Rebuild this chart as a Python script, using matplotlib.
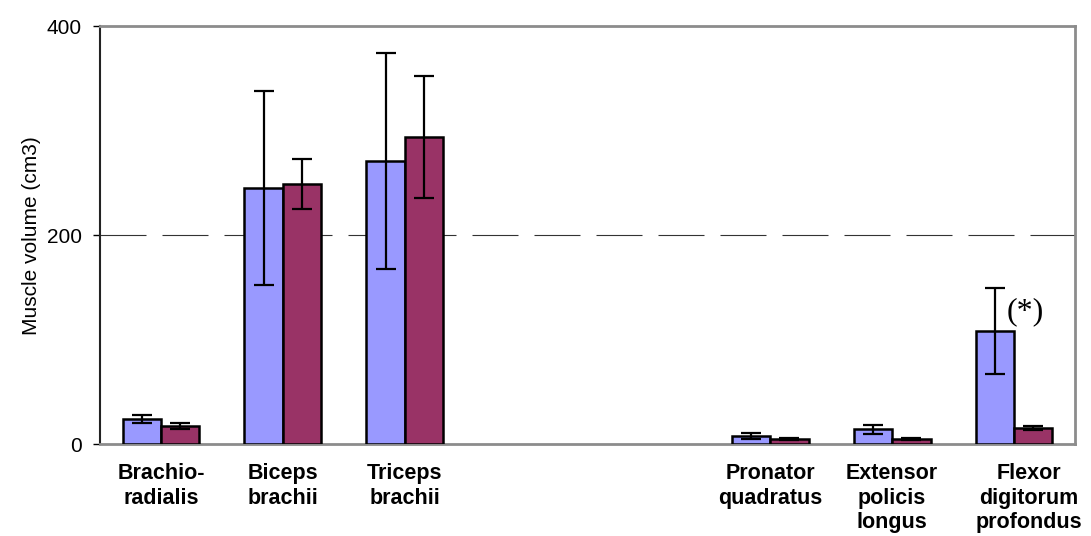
import matplotlib

matplotlib.use("Agg")
import matplotlib.pyplot as plt
import numpy as np
from matplotlib.transforms import ScaledTranslation

plt.rcParams["font.family"] = ["Liberation Sans", "DejaVu Sans"]

# Data (two empty slots between arm groups).
muscles = ["Brachio-\nradialis", "Biceps\nbrachii", "Triceps\nbrachii", "", "",
           "Pronator\nquadratus", "Extensor\npolicis\nlongus",
           "Flexor\ndigitorum\nprofondus"]
vol_a = [24, 245, 271, np.nan, np.nan, 8, 14, 108]
err_a = [4, 93, 103, 0, 0, 3, 4, 41]
vol_b = [17, 249, 294, np.nan, np.nan, 5, 5, 15]
err_b = [3, 24, 58, 0, 0, 1, 1, 2]

BLUE = "#9999ff"
PLUM = "#993366"
FRAME = "#8c8c8c"

fig = plt.figure(figsize=(10.91, 5.36), dpi=100)
ax = fig.add_axes([0.0917, 0.1716, 0.8936, 0.7794])

x = np.arange(len(muscles))
w = 0.315
ekw = dict(elinewidth=1.6, capthick=1.6, ecolor="black", capsize=7.5)
ax.bar(x - w / 2, vol_a, w, color=BLUE, edgecolor="black", linewidth=1.8,
       yerr=err_a, error_kw=ekw, zorder=3)
ax.bar(x + w / 2, vol_b, w, color=PLUM, edgecolor="black", linewidth=1.8,
       yerr=err_b, error_kw=ekw, zorder=3)

# long-dash reference line at 200 (dash ~33pt, gap ~11.5pt)
ax.axhline(200, color="#333333", lw=0.8, dashes=(41.4, 14.4), zorder=1)

ax.set_xlim(-0.5, len(muscles) - 0.5)
ax.set_ylim(0, 400)
ax.set_yticks([0, 200, 400])
ax.tick_params(axis="y", labelsize=15, length=5, width=1, direction="out", pad=8)
ax.set_ylabel("Muscle volume (cm3)", fontsize=15, labelpad=4)

ax.set_xticks(x)
ax.set_xticklabels(muscles, fontsize=15.5, fontweight="bold", va="top")
ax.tick_params(axis="x", length=0, pad=14)
# last label sits a little right of its slot, as in the original
lab = ax.get_xticklabels()[-1]
lab.set_transform(lab.get_transform() + ScaledTranslation(0.15, 0, fig.dpi_scale_trans))

for side in ["top", "right", "bottom"]:
    ax.spines[side].set_color(FRAME)
    ax.spines[side].set_linewidth(2)
ax.spines["left"].set_color("#222222")
ax.spines["left"].set_linewidth(1.5)

ax.text(x[-1] - 0.06, 127, "(*)", family="Liberation Serif",
        fontsize=23, ha="left", va="center", zorder=4)

fig.savefig("out.png", dpi=100)
